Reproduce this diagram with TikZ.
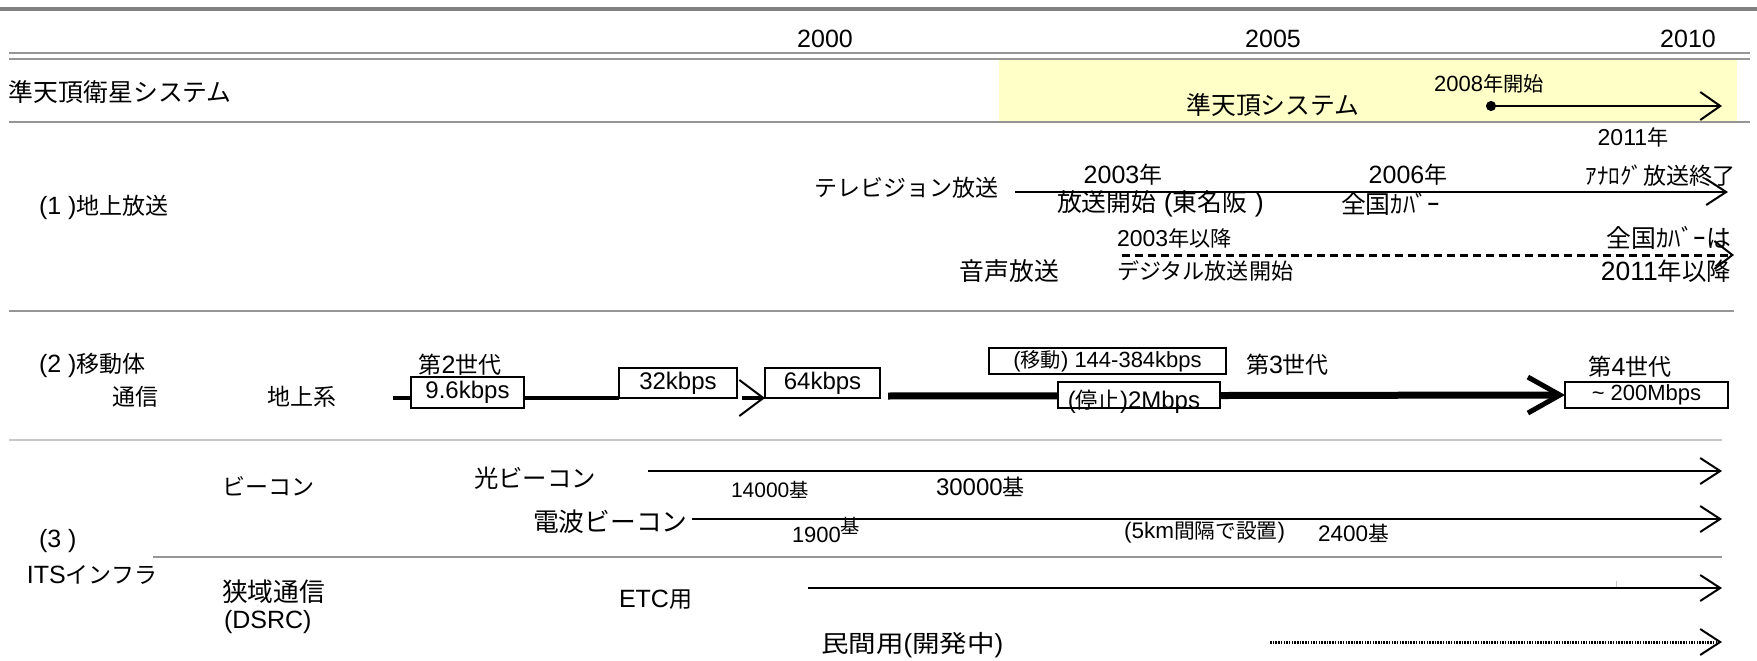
\documentclass[tikz,border=0pt]{standalone}
\usepackage{fontspec}
\setmainfont{Liberation Sans}
\newfontfamily\cjk[Scale=0.92]{Noto Sans CJK JP}
\newfontfamily\cjkwide[Scale=0.92,FakeStretch=1.15]{Noto Sans CJK JP}
\newcommand\J[1]{{\cjk #1}}
\usetikzlibrary{arrows.meta}
\definecolor{paleyellow}{RGB}{255,255,200}
\definecolor{rulegray}{RGB}{150,150,150}
\definecolor{lightrule}{RGB}{200,200,200}
\begin{document}
\begin{tikzpicture}[x=1pt,y=-1pt,
  every node/.style={inner sep=0pt,outer sep=0pt},
  font=\fontsize{25}{30}\selectfont,
  sml/.style={font=\fontsize{21}{24}\selectfont},
  mid/.style={font=\fontsize{23}{27}\selectfont},
  big/.style={font=\fontsize{27}{31}\selectfont},
  gl/.style={draw=rulegray,line width=2.5pt},
  box/.style={draw,line width=1.8pt,fill=white,font=\fontsize{24}{28}\selectfont},
  arl/.style={line width=2pt,-{Straight Barb[length=20pt,width=26pt]}},
]
\useasboundingbox (0,0) rectangle (1757,661);
% yellow band
\fill[paleyellow] (999,58) rectangle (1737,121);
% rules
\draw[draw=gray,line width=4pt] (0,9) -- (1757,9);
\draw[gl,line width=2pt] (9,53) -- (1750,53);
\draw[gl,line width=2pt] (9,59) -- (1750,59);
\draw[gl] (9,122) -- (1750,122);
\draw[gl] (9,311) -- (1734,311);
\draw[draw=lightrule,line width=2.5pt] (9,440) -- (1722,440);
\draw[gl] (153,557) -- (1722,557);
% years
\node (y2000) at (825,39) {2000};
\node (y2005) at (1273,39) {2005};
\node (y2010) at (1688,39) {2010};
% satellite row
\node[anchor=west,big] (qzs) at (9,92) {\J{準天頂衛星システム}};
\node[big] (qzsys) at (1273,105) {\J{準天頂システム}};
\node[font=\fontsize{22}{26}\selectfont] (s2008) at (1489,84) {2008\J{年開始}};
\coordinate (skyS) at (1486,106);
\coordinate (skyE) at (1722,106);
\draw[line width=2pt,{Circle[length=10pt]}-{Straight Barb[length=20pt,width=28pt]}] (skyS) -- (skyE);
% (1) terrestrial broadcasting
\node[anchor=west] (sec1) at (39,207) {(1 )\J{地上放送}};
\node[mid] (a2011) at (1633,137) {2011\J{年}};
\node[anchor=east] (tv) at (998,188) {\J{テレビジョン放送}};
\coordinate (tvS) at (1015,192);
\coordinate (tvE) at (1728,192);
\draw[arl] (tvS) -- (tvE);
\node (t2003) at (1123,175) {2003\J{年}};
\node[anchor=west,big] (tvstart) at (1057,204) {\J{放送開始} (\J{東名阪} )};
\node (t2006) at (1408,175) {2006\J{年}};
\node[anchor=west,big] (tvcover) at (1341,204) {\J{全国ｶﾊﾞｰ}};
\node[anchor=east] (analog) at (1735,176) {\J{ｱﾅﾛｸﾞ放送終了}};
\node[anchor=west,mid] (r2003) at (1117,238) {2003\J{年以降}};
\node[anchor=east,big] (rcover) at (1731,238) {\J{全国ｶﾊﾞｰは}};
\node[anchor=east,font=\fontsize{26.5}{30}\selectfont] (r2011) at (1731,271) {2011\J{年以降}};
\node[anchor=east,big] (radio) at (1059,271) {\J{音声放送}};
\node[anchor=west,font=\fontsize{24}{28}\selectfont] (rdig) at (1117,271) {\J{デジタル放送開始}};
\coordinate (rdS) at (1122,255);
\coordinate (rdE) at (1734,255);
\draw[line width=3pt,dash pattern=on 8pt off 5pt,-{Straight Barb[length=18pt,width=28pt,line width=2pt]}] (rdS) -- (rdE);
% (2) mobile communication
\node[anchor=west] (sec2a) at (39,365) {(2 )\J{移動体}};
\node[anchor=west] (sec2b) at (112,397) {\J{通信}};
\node[anchor=west] (ground) at (267,397) {\J{地上系}};
\coordinate (m1S) at (393,398);
\coordinate (m1E) at (619,398);
\draw[line width=4.5pt] (m1S) -- (m1E);
\coordinate (m2S) at (742,398);
\coordinate (m2E) at (765,398);
\draw[line width=4.5pt,-{Straight Barb[length=24pt,width=36pt,line width=2pt]}] (m2S) -- (m2E);
\coordinate (m3S) at (888,396);
\coordinate (m3E) at (1565,395);
\draw[line width=7pt,-{Straight Barb[length=32pt,width=36pt,line width=5pt]}] (m3S) -- (m3E);
\node[box,anchor=north west,minimum width=113pt,minimum height=31pt] (b96) at (411,377) {9.6kbps};
\node[box,anchor=north west,minimum width=118pt,minimum height=30pt] (b32) at (619,368) {32kbps};
\node[box,anchor=north west,minimum width=115pt,minimum height=30pt] (b64) at (765,368) {64kbps};
\node[box,anchor=north west,minimum width=237pt,minimum height=26pt,font=\fontsize{22}{26}\selectfont] (bmove) at (989,348) {(\J{移動}) 144-384kbps};
\node[box,anchor=north west,minimum width=162pt,minimum height=26pt] (bstop) at (1058,382) {};
\node[font=\fontsize{24}{28}\selectfont] (tstop) at (1134,402) {(\J{停止})2Mbps};
\draw[line width=1.8pt] (bstop.south west) -- (bstop.south east);
\node[box,anchor=north west,minimum width=163pt,minimum height=26pt,font=\fontsize{22}{26}\selectfont] (b200) at (1565,382) {\textasciitilde\ 200Mbps};
\node (g2) at (460,365) {\J{第}2\J{世代}};
\node[anchor=west] (g3) at (1246,365) {\J{第}3\J{世代}};
\node (g4) at (1630,367) {\J{第}4\J{世代}};
% (3) ITS infrastructure
\node[anchor=west] (sec3a) at (39,541) {(3 )};
\node[anchor=west] (sec3b) at (27,575) {ITS\J{インフラ}};
\node[anchor=west] (beacon) at (222,486) {\J{ビーコン}};
\node[anchor=west,font=\fontsize{28}{32}\selectfont] (dsrc1) at (222,592) {\J{狭域通信}};
\node[anchor=west] (dsrc2) at (224,622) {(DSRC)};
\node[anchor=west,font=\fontsize{26.5}{30}\selectfont] (opt) at (474,478) {\J{光ビーコン}};
\coordinate (optS) at (648,471);
\coordinate (optE) at (1722,471);
\draw[arl] (optS) -- (optE);
\node[anchor=west,sml] (n14000) at (731,490) {14000\J{基}};
\node[anchor=west,font=\fontsize{24}{28}\selectfont] (n30000) at (936,487) {30000\J{基}};
\node[anchor=west,font=\fontsize{28}{32}\selectfont] (radio2) at (533,522) {\J{電波ビーコン}};
\coordinate (radS) at (692,519);
\coordinate (radE) at (1722,519);
\draw[arl] (radS) -- (radE);
\node[anchor=west,font=\fontsize{22}{26}\selectfont] (n1900) at (792,535) {1900};
\node[anchor=west,sml] (n1900k) at (n1900.east |- 0,526) {\J{基}};
\node[anchor=west,font=\fontsize{22.5}{26}\selectfont] (n5km) at (1124,532) {(5km\J{間隔で設置})};
\node[anchor=west,font=\fontsize{22.5}{26}\selectfont] (n2400) at (1318,533) {2400\J{基}};
\node[anchor=west] (etc) at (619,600) {ETC\J{用}};
\coordinate (etcS) at (808,588);
\coordinate (etcE) at (1722,588);
\draw[arl] (etcS) -- (etcE);
\draw[draw=lightrule,line width=1pt] (1616,581) -- (1616,587);
\node[anchor=west,font=\fontsize{26}{30}\selectfont] (priv) at (821,645) {{\cjkwide 民間用}({\cjkwide 開発中})};
\coordinate (prS) at (1270,642);
\coordinate (prE) at (1722,642);
\draw[line width=3pt,dash pattern=on 1.5pt off 1.2pt,-{Straight Barb[length=20pt,width=26pt,line width=2pt]}] (prS) -- (prE);
\end{tikzpicture}
\end{document}
